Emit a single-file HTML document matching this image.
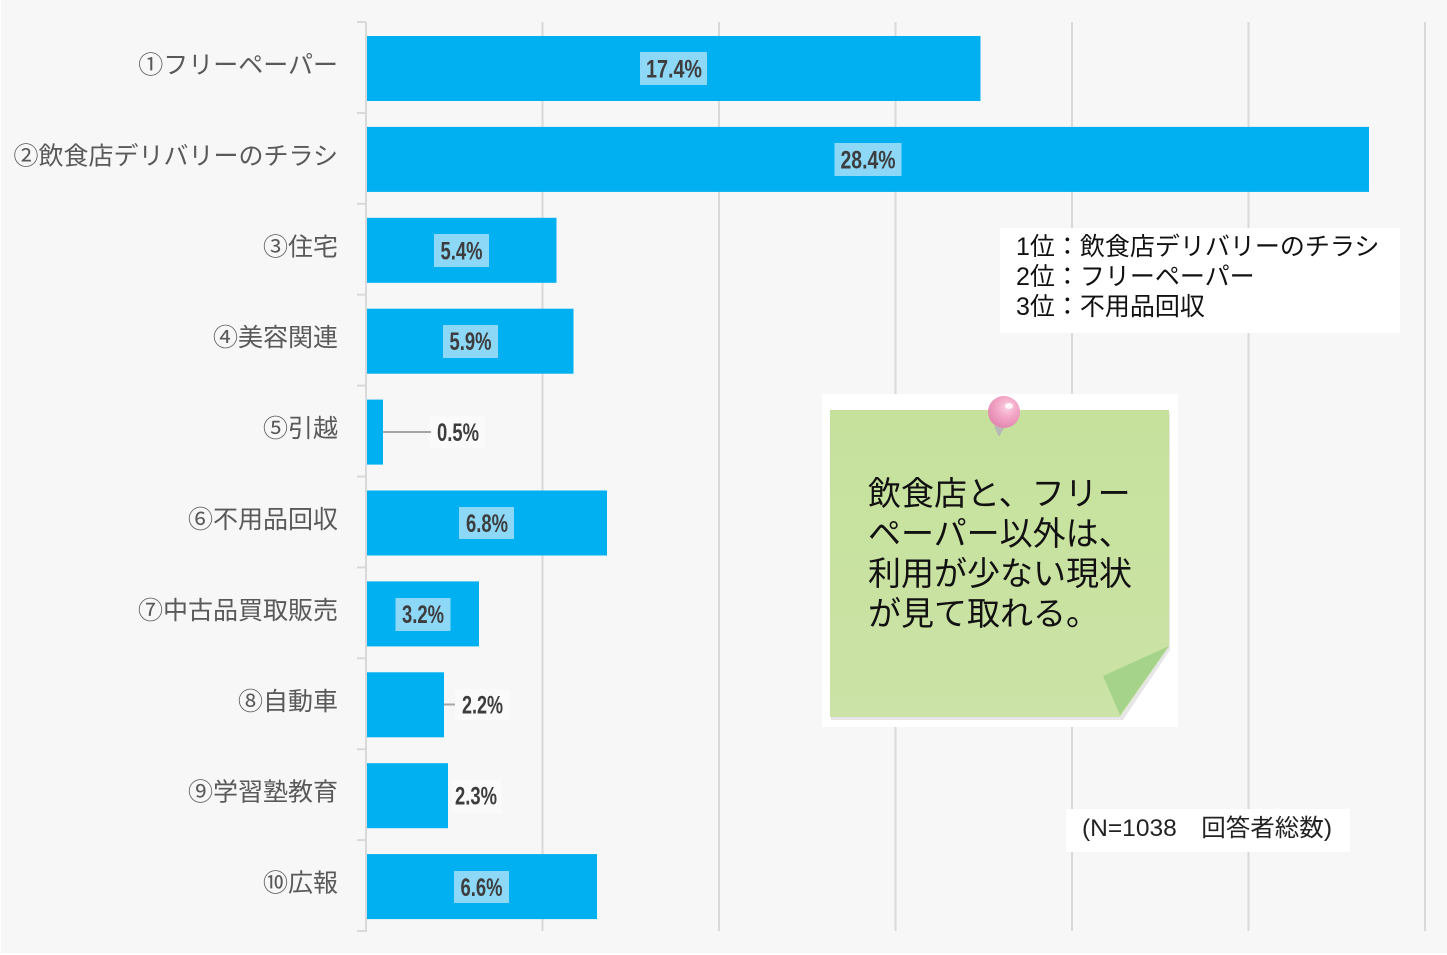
<!DOCTYPE html>
<html><head><meta charset="utf-8"><style>
html,body{margin:0;padding:0;background:#fff;}
svg{display:block;}
.cat{font-family:"Liberation Sans","Noto Sans CJK JP",sans-serif;font-size:25px;fill:#595959;}
.val{font-family:"Liberation Sans",sans-serif;font-size:25px;font-weight:bold;fill:#3d3d3d;}
.jp{font-family:"Liberation Sans","Noto Sans CJK JP",sans-serif;}
</style></head><body>
<svg width="1447" height="955" viewBox="0 0 1447 955" xmlns="http://www.w3.org/2000/svg">
<rect x="0" y="0" width="1447" height="955" fill="#ffffff"/>
<rect x="1" y="0" width="1446" height="953" fill="#f7f7f7"/>
<!-- gridlines -->
<g stroke="#d9d9d9" stroke-width="2">
<line x1="542.5" y1="22" x2="542.5" y2="931"/>
<line x1="719" y1="22" x2="719" y2="931"/>
<line x1="895.5" y1="22" x2="895.5" y2="931"/>
<line x1="1072" y1="22" x2="1072" y2="931"/>
<line x1="1248.5" y1="22" x2="1248.5" y2="931"/>
<line x1="1425" y1="22" x2="1425" y2="931"/>
<line x1="366" y1="22" x2="366" y2="932"/>
<line x1="357" y1="22" x2="366" y2="22"/>
<line x1="357" y1="112.9" x2="366" y2="112.9"/>
<line x1="357" y1="203.8" x2="366" y2="203.8"/>
<line x1="357" y1="294.7" x2="366" y2="294.7"/>
<line x1="357" y1="385.6" x2="366" y2="385.6"/>
<line x1="357" y1="476.5" x2="366" y2="476.5"/>
<line x1="357" y1="567.4" x2="366" y2="567.4"/>
<line x1="357" y1="658.3" x2="366" y2="658.3"/>
<line x1="357" y1="749.2" x2="366" y2="749.2"/>
<line x1="357" y1="840.1" x2="366" y2="840.1"/>
<line x1="357" y1="931" x2="366" y2="931"/>
</g>
<!-- bars -->
<g fill="#00b0f0">
<rect x="367" y="36" width="613.5" height="65"/>
<rect x="367" y="126.9" width="1002" height="65"/>
<rect x="367" y="217.8" width="189.5" height="65"/>
<rect x="367" y="308.7" width="206.5" height="65"/>
<rect x="367" y="399.6" width="16" height="65"/>
<rect x="367" y="490.5" width="240" height="65"/>
<rect x="367" y="581.4" width="112" height="65"/>
<rect x="367" y="672.3" width="77" height="65"/>
<rect x="367" y="763.2" width="81" height="65"/>
<rect x="367" y="854.1" width="230" height="65"/>
</g>
<!-- category labels -->
<g class="cat" text-anchor="end">
<text x="338" y="73.5">①フリーペーパー</text>
<text x="338" y="164.4">②飲食店デリバリーのチラシ</text>
<text x="338" y="255.3">③住宅</text>
<text x="338" y="346.2">④美容関連</text>
<text x="338" y="437.1">⑤引越</text>
<text x="338" y="528">⑥不用品回収</text>
<text x="338" y="618.9">⑦中古品買取販売</text>
<text x="338" y="709.8">⑧自動車</text>
<text x="338" y="800.7">⑨学習塾教育</text>
<text x="338" y="891.6">⑩広報</text>
</g>
<!-- value label boxes -->
<g fill="#8dd7f7">
<rect x="640" y="52" width="67" height="33"/>
<rect x="834.5" y="143" width="67" height="33"/>
<rect x="434" y="234" width="55" height="33"/>
<rect x="443" y="325" width="55" height="33"/>
<rect x="459" y="507" width="55" height="32"/>
<rect x="395.5" y="598" width="55" height="33"/>
<rect x="454" y="871" width="55" height="32"/>
</g>
<g fill="#fafafa">
<rect x="429" y="416" width="56" height="32"/>
<rect x="455" y="689" width="55" height="31"/>
<rect x="452" y="780" width="50" height="33"/>
</g>
<g stroke="#a6a6a6" stroke-width="2">
<line x1="383" y1="432" x2="431" y2="432"/>
<line x1="444" y1="704.5" x2="455" y2="704.5"/>
</g>
<g class="val">
<text x="646" y="77.5" textLength="56" lengthAdjust="spacingAndGlyphs">17.4%</text>
<text x="840.5" y="168.4" textLength="55" lengthAdjust="spacingAndGlyphs">28.4%</text>
<text x="440.5" y="259.3" textLength="42" lengthAdjust="spacingAndGlyphs">5.4%</text>
<text x="449.5" y="350.2" textLength="42" lengthAdjust="spacingAndGlyphs">5.9%</text>
<text x="437" y="441" textLength="42" lengthAdjust="spacingAndGlyphs">0.5%</text>
<text x="466" y="532" textLength="42" lengthAdjust="spacingAndGlyphs">6.8%</text>
<text x="402" y="622.9" textLength="42" lengthAdjust="spacingAndGlyphs">3.2%</text>
<text x="462" y="713.5" textLength="41" lengthAdjust="spacingAndGlyphs">2.2%</text>
<text x="455" y="804.5" textLength="42" lengthAdjust="spacingAndGlyphs">2.3%</text>
<text x="460.5" y="896" textLength="42" lengthAdjust="spacingAndGlyphs">6.6%</text>
</g>
<!-- ranking box -->
<rect x="1000" y="228" width="400" height="105" fill="#ffffff"/>
<g class="jp" font-size="25" fill="#111">
<text x="1016" y="255">1位：飲食店デリバリーのチラシ</text>
<text x="1016" y="285">2位：フリーペーパー</text>
<text x="1016" y="315">3位：不用品回収</text>
</g>
<!-- N box -->
<rect x="1066" y="809" width="284" height="43" fill="#ffffff"/>
<text class="jp" x="1082" y="836" font-size="24" fill="#222" textLength="250" lengthAdjust="spacingAndGlyphs">(N=1038　回答者総数)</text>
<!-- sticky note -->
<rect x="822" y="394" width="356" height="333" fill="#ffffff"/>
<defs>
<linearGradient id="ng" x1="0" y1="0" x2="0" y2="1">
<stop offset="0" stop-color="#c6e19c"/>
<stop offset="1" stop-color="#cbe3a6"/>
</linearGradient>
<radialGradient id="pg" cx="0.6" cy="0.35" r="0.7">
<stop offset="0" stop-color="#fbd0e2"/>
<stop offset="0.5" stop-color="#f2a3c4"/>
<stop offset="1" stop-color="#e084ad"/>
</radialGradient>
</defs>
<polygon points="831,413 1170,413 1170,650 1123,720 831,720" fill="#e6e6e6"/>
<polygon points="830,410 1169,410 1169,646 1120,717 830,717" fill="url(#ng)"/>
<polygon points="1103,676 1169,646 1120,715" fill="#a6d38a"/>
<polygon points="994,426 1004,428 999,437" fill="#b8b8b8"/>
<circle cx="1004" cy="412" r="16" fill="url(#pg)"/>
<ellipse cx="1009" cy="406" rx="4" ry="3" fill="#ffffff" opacity="0.85"/>
<g class="jp" font-size="33" fill="#111">
<text x="868" y="505">飲食店と、フリー</text>
<text x="868" y="545">ペーパー以外は、</text>
<text x="868" y="585">利用が少ない現状</text>
<text x="868" y="625">が見て取れる。</text>
</g>
</svg>
</body></html>
